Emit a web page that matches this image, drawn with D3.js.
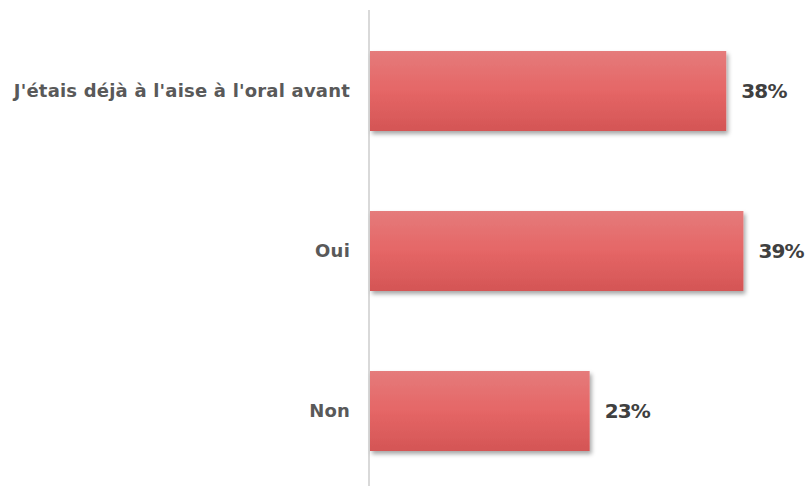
<!DOCTYPE html>
<html><head><meta charset="utf-8">
<script src="https://cdn.jsdelivr.net/npm/d3@7"></script>
<style>body{margin:0;background:#fff}</style>
</head><body>
<svg id="c" width="807" height="486"></svg>
<script>
const categories = ["J'étais déjà à l'aise à l'oral avant", "Oui", "Non"];
const values = [37.3, 39.1, 23.0];
const valueLabels = ["38%", "39%", "23%"];

const svg = d3.select("#c");
const x0 = 369;
const x = d3.scaleLinear().domain([0, 10]).range([x0, x0 + 95.5]);
const y = d3.scaleBand().domain(categories).range([11, 491]).paddingInner(0.5).paddingOuter(0.25);

const defs = svg.append("defs");
const g = defs.append("linearGradient").attr("id","grad").attr("x1",0).attr("y1",0).attr("x2",0).attr("y2",1);
g.append("stop").attr("offset","0%").attr("stop-color","#e57b7b");
g.append("stop").attr("offset","50%").attr("stop-color","#e56666");
g.append("stop").attr("offset","100%").attr("stop-color","#d45555");
const f = defs.append("filter").attr("id","sh").attr("x","-5%").attr("y","-10%").attr("width","115%").attr("height","130%");
f.append("feDropShadow").attr("dx",2).attr("dy",3).attr("stdDeviation",2.2).attr("flood-color","#000").attr("flood-opacity",0.35);

svg.append("line").attr("x1",x0).attr("x2",x0).attr("y1",10).attr("y2",486)
  .attr("stroke","#d9d9d9").attr("stroke-width",2);

svg.selectAll("rect.bar").data(categories).join("rect").attr("class","bar")
  .attr("x", x(0)+1).attr("y", d => y(d)).attr("height", y.bandwidth())
  .attr("width", (d,i) => x(values[i]) - x(0))
  .attr("fill","url(#grad)").attr("filter","url(#sh)");

svg.selectAll("text.cat").data(categories).join("text").attr("class","cat")
  .attr("x", 350).attr("y", d => y(d) + y.bandwidth()/2).attr("dy","0.35em")
  .attr("text-anchor","end").attr("font-family","'DejaVu Sans', sans-serif")
  .attr("font-weight","bold").attr("font-size",18).attr("fill","#595959")
  .attr("letter-spacing", 0.2)
  .text(d => d);

svg.selectAll("text.val").data(categories).join("text").attr("class","val")
  .attr("x", (d,i) => x(values[i]) + 16).attr("y", d => y(d) + y.bandwidth()/2).attr("dy","0.35em")
  .attr("font-family","'DejaVu Sans', sans-serif").attr("font-weight","bold")
  .attr("font-size",20).attr("fill","#404040").attr("letter-spacing",-0.8)
  .text((d,i) => valueLabels[i]);
</script>
</body></html>
